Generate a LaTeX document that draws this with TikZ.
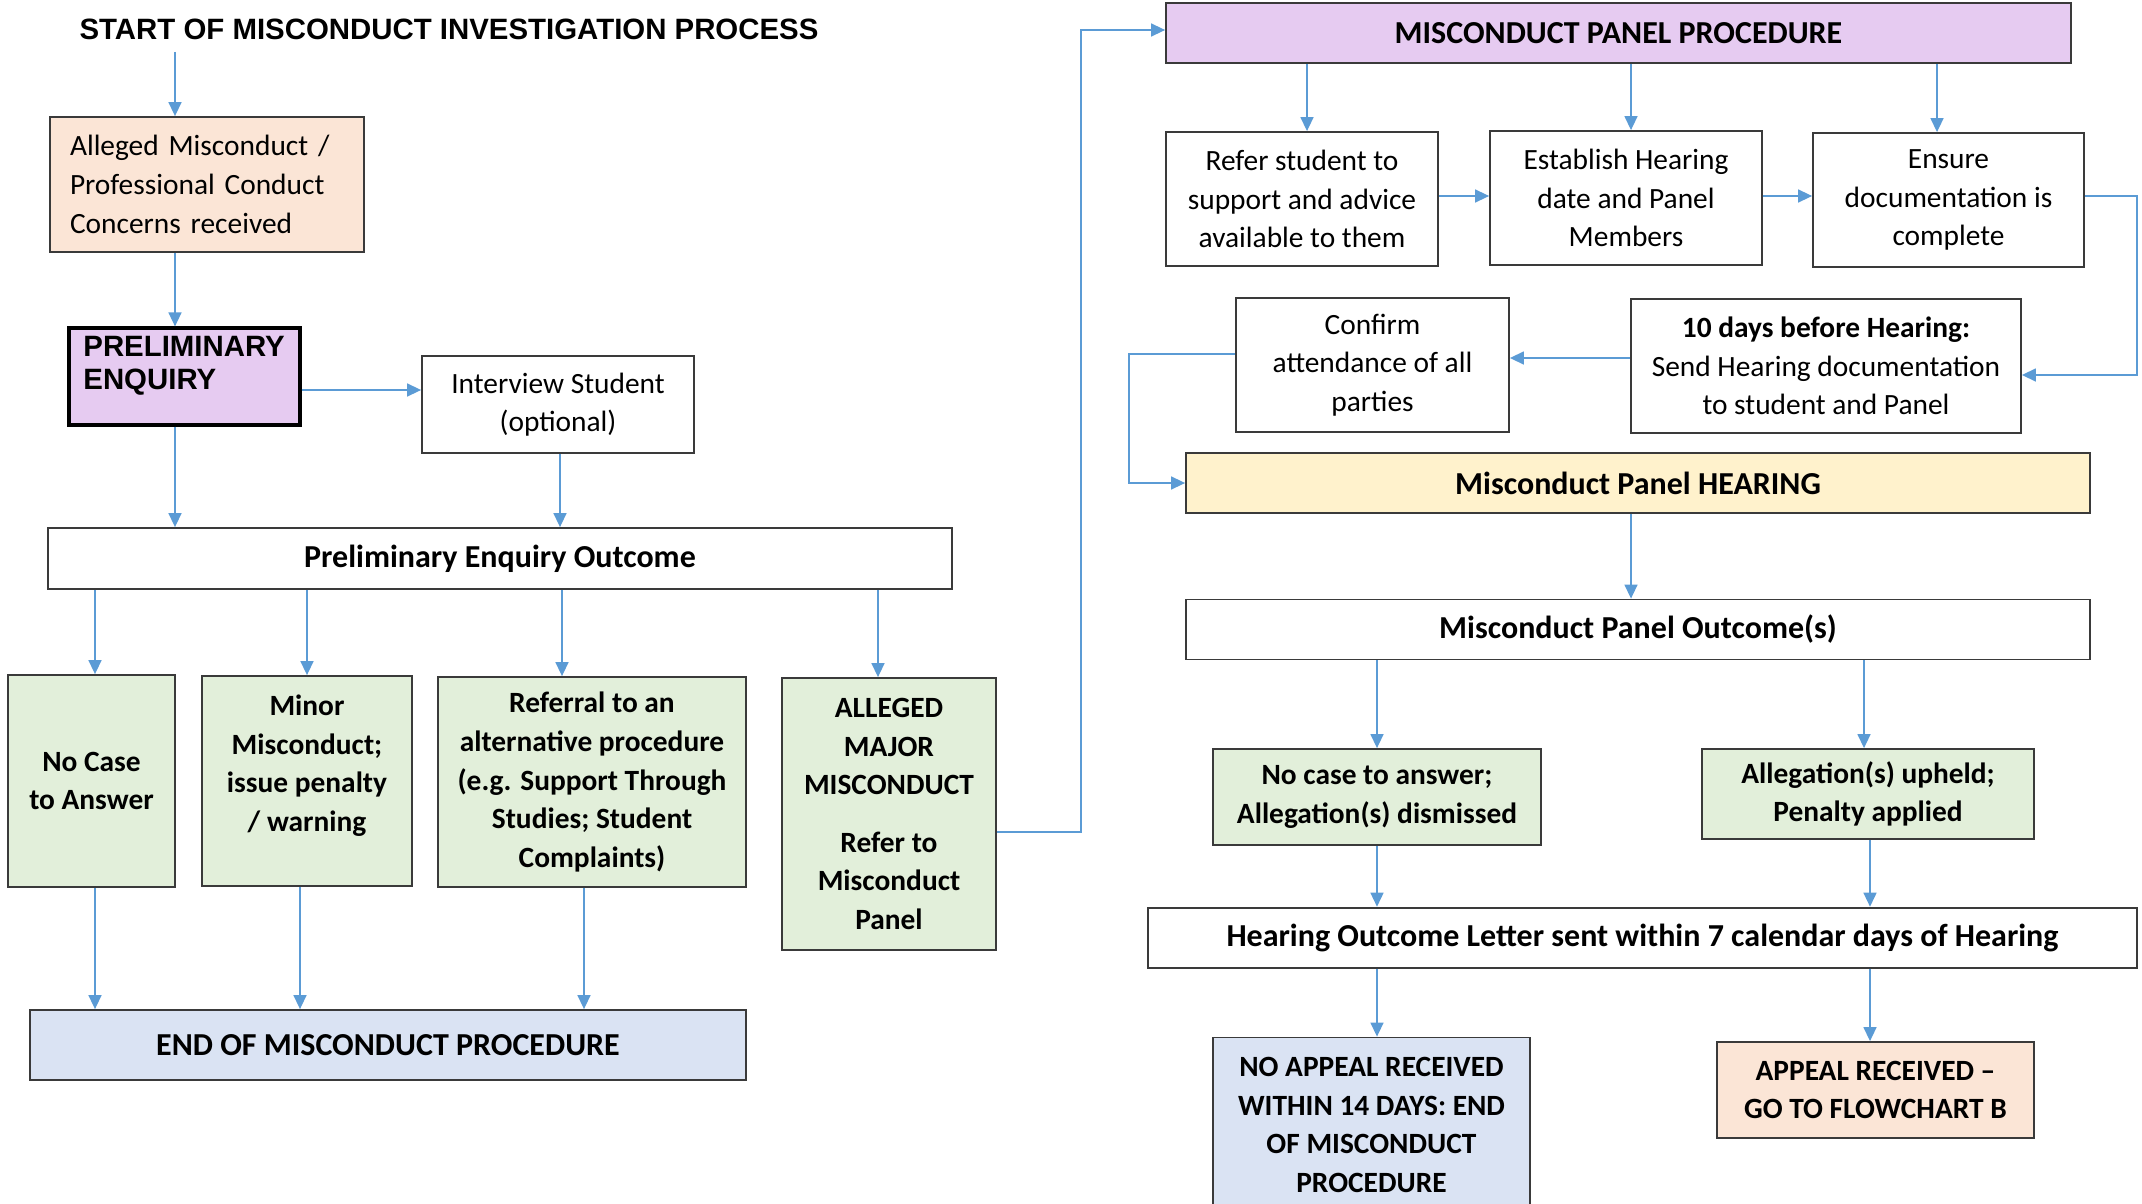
\documentclass[tikz,border=0pt]{standalone}
\usepackage{fontspec}
\setmainfont{Carlito}
\newfontfamily\arialfont{Liberation Sans}
\usetikzlibrary{arrows.meta}
\definecolor{peach}{HTML}{FBE5D6}
\definecolor{lav}{HTML}{E6CBF1}
\definecolor{lgreen}{HTML}{E2EFDA}
\definecolor{lblue}{HTML}{DAE3F3}
\definecolor{lyellow}{HTML}{FFF2CC}
\definecolor{connc}{HTML}{5B9BD5}
\definecolor{bord}{HTML}{3A3A3A}
\newcommand\fs{\fontsize{14.7pt}{19.3pt}\selectfont}
\newcommand\hfs{\fontsize{16pt}{19.3pt}\selectfont}
\newcommand\afs{\arialfont\bfseries\fontsize{14.7pt}{16.5pt}\selectfont}
\tikzset{
  box/.style={draw=bord, line width=0.9pt, rectangle, inner sep=2pt, align=center, font=\fs},
  bbox/.style={box, font=\fs\bfseries},
  headbox/.style={box, font=\hfs\bfseries},
  conn/.style={draw=connc, line width=0.75pt, -{Triangle[length=7pt,width=6.5pt]}},
}
\begin{document}
\begin{tikzpicture}[x=0.5pt,y=-0.5pt]
\useasboundingbox (0,0) rectangle (2142,1204);
\clip (0,0) rectangle (2142,1204);
% ---------- left side ----------
\node[font=\afs, inner sep=0] (title) at (449,29) {START OF MISCONDUCT INVESTIGATION PROCESS};
\node[box, fill=peach, minimum width=157pt, minimum height=67.5pt, text width=137pt, align=left, inner xsep=10pt] (alleged) at (207,184.5) {Alleged Misconduct /\\Professional Conduct\\Concerns received};
\node[draw=black, line width=1.6pt, fill=lav, minimum width=115.5pt, minimum height=48.5pt, inner sep=0] (pe) at (184.5,376.5) {};
\node[font=\afs, anchor=north west, inner sep=0, align=left] (petext) at (83,336) {PRELIMINARY\\ENQUIRY};
\node[box, minimum width=136pt, minimum height=48.5pt] (interview) at (558,404.5) {Interview Student\\(optional)};
\node[headbox, minimum width=452pt, minimum height=30.5pt] (outcome) at (500,558.5) {Preliminary Enquiry Outcome};
\node[bbox, fill=lgreen, minimum width=83.5pt, minimum height=106pt] (nocase) at (91.5,781) {No Case\\to Answer};
\node[box, fill=lgreen, minimum width=105pt, minimum height=105pt] (minor) at (307,781) {};
\node[font=\fs\bfseries, align=center, inner sep=0] (minortext) at (307,765.5) {Minor\\Misconduct;\\issue penalty\\/ warning};
\node[bbox, fill=lgreen, minimum width=154pt, minimum height=105pt] (referral) at (592,782) {Referral to an\\alternative procedure\\(e.g. Support Through\\Studies; Student\\Complaints)};
\node[bbox, fill=lgreen, minimum width=107pt, minimum height=136pt] (major) at (889,814) {ALLEGED\\MAJOR\\MISCONDUCT\\[9.5pt]Refer to\\Misconduct\\Panel};
\node[headbox, fill=lblue, minimum width=358pt, minimum height=35pt] (endbox) at (388,1045) {END OF MISCONDUCT PROCEDURE};
% ---------- right side ----------
\node[headbox, fill=lav, minimum width=452.5pt, minimum height=30pt] (mpp) at (1618.5,33) {MISCONDUCT PANEL PROCEDURE};
\node[box, minimum width=136pt, minimum height=67pt] (refer) at (1302,199) {Refer student to\\support and advice\\available to them};
\node[box, minimum width=136pt, minimum height=67pt] (establish) at (1626,198) {Establish Hearing\\date and Panel\\Members};
\node[box, minimum width=135.5pt, minimum height=67pt] (ensure) at (1948.5,200) {Ensure\\documentation is\\complete};
\node[box, minimum width=136.5pt, minimum height=67pt] (confirm) at (1372.5,365) {Confirm\\attendance of all\\parties};
\node[box, minimum width=195pt, minimum height=67pt] (tendays) at (1826,366) {\textbf{10 days before Hearing:}\\Send Hearing documentation\\to student and Panel};
\node[headbox, fill=lyellow, minimum width=452pt, minimum height=30pt] (hearing) at (1638,483) {Misconduct Panel HEARING};
\node[headbox, minimum width=452pt, minimum height=30pt] (pout) at (1638,629.5) {Misconduct Panel Outcome(s)};
\node[bbox, fill=lgreen, minimum width=164pt, minimum height=48pt] (nocase2) at (1377,797) {No case to answer;\\Allegation(s) dismissed};
\node[bbox, fill=lgreen, minimum width=166pt, minimum height=45pt] (upheld) at (1868,794) {Allegation(s) upheld;\\Penalty applied};
\node[headbox, minimum width=494.5pt, minimum height=30pt] (letter) at (1642.5,937.6) {Hearing Outcome Letter sent within 7 calendar days of Hearing};
\node[bbox, fill=lblue, minimum width=158.5pt, minimum height=87.5pt] (noappeal) at (1371.5,1125) {NO APPEAL RECEIVED\\WITHIN 14 DAYS: END\\OF MISCONDUCT\\PROCEDURE};
\node[bbox, fill=peach, minimum width=158.5pt, minimum height=48pt] (appeal) at (1875.5,1090) {APPEAL RECEIVED --\\GO TO FLOWCHART B};
% ---------- helper coordinates ----------
\coordinate (t0) at (175,52);
\coordinate (cA) at (175,0);
\coordinate (cB) at (560,0);
\coordinate (cC) at (95,0);
\coordinate (cD) at (307,0);
\coordinate (cE) at (562,0);
\coordinate (cF) at (878,0);
\coordinate (cG) at (300,0);
\coordinate (cH) at (584,0);
\coordinate (cI) at (1307,0);
\coordinate (cJ) at (1631,0);
\coordinate (cK) at (1937,0);
\coordinate (cL) at (1377,0);
\coordinate (cM) at (1864,0);
\coordinate (cN) at (1870,0);
\coordinate (cO) at (1081,0);
\coordinate (cP) at (2137,0);
\coordinate (cQ) at (1129,0);
\coordinate (rA) at (0,390);
\coordinate (rB) at (0,196);
\coordinate (rC) at (0,358);
\coordinate (rD) at (0,354);
\coordinate (rE) at (0,375);
\coordinate (rF) at (0,832);
\coordinate (rG) at (0,30);
% ---------- connectors ----------
\draw[conn] (t0) -- (alleged.north -| t0);
\draw[conn] (alleged.south -| cA) -- (pe.north -| cA);
\draw[conn] (pe.east |- rA) -- (interview.west |- rA);
\draw[conn] (pe.south -| cA) -- (outcome.north -| cA);
\draw[conn] (interview.south -| cB) -- (outcome.north -| cB);
\draw[conn] (outcome.south -| cC) -- (nocase.north -| cC);
\draw[conn] (outcome.south -| cD) -- (minor.north -| cD);
\draw[conn] (outcome.south -| cE) -- (referral.north -| cE);
\draw[conn] (outcome.south -| cF) -- (major.north -| cF);
\draw[conn] (nocase.south -| cC) -- (endbox.north -| cC);
\draw[conn] (minor.south -| cG) -- (endbox.north -| cG);
\draw[conn] (referral.south -| cH) -- (endbox.north -| cH);
\draw[conn] (major.east |- rF) -| (cO |- rG) -- (mpp.west |- rG);
\draw[conn] (mpp.south -| cI) -- (refer.north -| cI);
\draw[conn] (mpp.south -| cJ) -- (establish.north -| cJ);
\draw[conn] (mpp.south -| cK) -- (ensure.north -| cK);
\draw[conn] (refer.east |- rB) -- (establish.west |- rB);
\draw[conn] (establish.east |- rB) -- (ensure.west |- rB);
\draw[conn] (ensure.east |- rB) -| (cP |- rE) -- (tendays.east |- rE);
\draw[conn] (tendays.west |- rC) -- (confirm.east |- rC);
\draw[conn] (confirm.west |- rD) -| (cQ |- hearing.west) -- (hearing.west);
\draw[conn] (hearing.south -| cJ) -- (pout.north -| cJ);
\draw[conn] (pout.south -| cL) -- (nocase2.north -| cL);
\draw[conn] (pout.south -| cM) -- (upheld.north -| cM);
\draw[conn] (nocase2.south -| cL) -- (letter.north -| cL);
\draw[conn] (upheld.south -| cN) -- (letter.north -| cN);
\draw[conn] (letter.south -| cL) -- (noappeal.north -| cL);
\draw[conn] (letter.south -| cN) -- (appeal.north -| cN);
\end{tikzpicture}
\end{document}
